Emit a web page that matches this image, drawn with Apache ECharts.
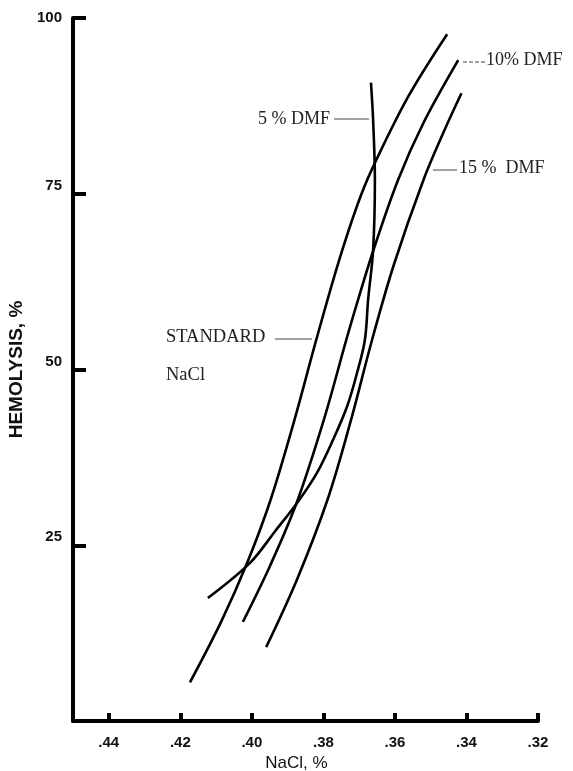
<!DOCTYPE html>
<html>
<head>
<meta charset="utf-8">
<script src="https://cdn.jsdelivr.net/npm/echarts@6/dist/echarts.min.js"></script>
<style>
html,body{margin:0;padding:0;background:#fff;}
#chart{width:573px;height:771px;}
</style>
</head>
<body>
<div id="chart"></div>
<script>
const xTicks = [0.44, 0.42, 0.40, 0.38, 0.36, 0.34, 0.32];
const yTicks = [25, 50, 75, 100];
const standardNaCl = [[0.4173,5.5],[0.4086,14.1],[0.4013,22.5],[0.3948,31.4],[0.3881,42.8],[0.3820,54.2],[0.3758,65.2],[0.3705,73.4],[0.3665,78.4],[0.3563,88.8],[0.3454,97.7]];
const dmf5 = [[0.4123,17.5],[0.4005,22.5],[0.3935,27.0],[0.3871,31.2],[0.3818,35.3],[0.3773,40.0],[0.3734,44.7],[0.3706,49.5],[0.3684,54.2],[0.3675,59.9],[0.3661,67.0],[0.3656,77.0],[0.3661,85.5],[0.3667,90.8]];
const dmf10 = [[0.4025,14.1],[0.3948,22.2],[0.3875,31.0],[0.3799,42.8],[0.3736,54.2],[0.3709,58.9],[0.3660,67.0],[0.3591,77.0],[0.3520,85.1],[0.3423,94.0]];
const dmf15 = [[0.3960,10.5],[0.3874,20.1],[0.3789,31.4],[0.3725,42.4],[0.3664,54.2],[0.3603,64.9],[0.3520,77.0],[0.3461,84.1],[0.3414,89.3]];

const chart = echarts.init(document.getElementById('chart'), null, {renderer:'canvas'});
const serif = '"Liberation Serif","DejaVu Serif",serif';
const sans = '"Liberation Sans","DejaVu Sans",sans-serif';
function mkSeries(name, data){
  return {name:name, type:'line', data:data, symbol:'none', smooth:0.35,
    lineStyle:{color:'#000', width:2.6}, z:3};
}
const option = {
  animation:false,
  backgroundColor:'#fff',
  grid:{left:73, right:35, top:18, bottom:50, containLabel:false, outerBoundsMode:'none'},
  xAxis:{
    type:'value', min:0.32, max:0.45, inverse:true,
    name:'NaCl, %', nameLocation:'middle', nameGap:34,
    nameTextStyle:{fontFamily:sans, fontSize:17, color:'#111', padding:[0,18,0,0]},
    axisLine:{show:true, onZero:false, lineStyle:{color:'#000', width:4}},
    axisTick:{show:true, inside:true, length:8, customValues:xTicks, lineStyle:{color:'#000', width:4}},
    axisLabel:{show:true, margin:14, customValues:xTicks, fontFamily:sans, fontWeight:'bold', fontSize:15, color:'#111',
      formatter:function(v){return v.toFixed(2).replace(/^0/,'');}},
    splitLine:{show:false}
  },
  yAxis:{
    type:'value', min:0, max:100,
    name:'HEMOLYSIS, %', nameLocation:'middle', nameGap:43, nameRotate:90,
    nameTextStyle:{fontFamily:sans, fontWeight:'bold', fontSize:19, color:'#111'},
    axisLine:{show:true, onZero:false, lineStyle:{color:'#000', width:4}},
    axisTick:{show:true, inside:true, length:13, customValues:yTicks, lineStyle:{color:'#000', width:4}},
    axisLabel:{show:true, margin:11, customValues:yTicks, color:'#111',
      formatter:function(v){return v === 100 ? '{top|' + v + '}' : '{up|' + v + '}';},
      rich:{
        top:{fontFamily:sans, fontWeight:'bold', fontSize:15, color:'#111', padding:[0,0,0,0]},
        up:{fontFamily:sans, fontWeight:'bold', fontSize:15, color:'#111', padding:[0,0,16,0]}
      }},
    splitLine:{show:false}
  },
  series:[
    mkSeries('STANDARD NaCl', standardNaCl),
    mkSeries('5% DMF', dmf5),
    mkSeries('10% DMF', dmf10),
    mkSeries('15% DMF', dmf15)
  ],
  graphic:[
    {type:'text', left:166, top:328, style:{text:'STANDARD', font:'18.5px '+serif, fill:'#222'}},
    {type:'line', shape:{x1:275, y1:339, x2:312, y2:339}, style:{stroke:'#444', lineWidth:1}},
    {type:'text', left:166, top:366, style:{text:'NaCl', font:'18.5px '+serif, fill:'#222'}},
    {type:'text', right:243, top:110, style:{text:'5 % DMF', font:'18px '+serif, fill:'#222'}},
    {type:'line', shape:{x1:334, y1:119, x2:369, y2:119}, style:{stroke:'#444', lineWidth:1}},
    {type:'line', shape:{x1:463, y1:62, x2:485, y2:62}, style:{stroke:'#444', lineWidth:1, lineDash:[4,2]}},
    {type:'text', left:486, top:51, style:{text:'10% DMF', font:'18px '+serif, fill:'#222'}},
    {type:'line', shape:{x1:433, y1:170, x2:457, y2:170}, style:{stroke:'#444', lineWidth:1}},
    {type:'text', left:459, top:159, style:{text:'15 %  DMF', font:'18px '+serif, fill:'#222'}}
  ]
};
chart.setOption(option);
</script>
</body>
</html>
